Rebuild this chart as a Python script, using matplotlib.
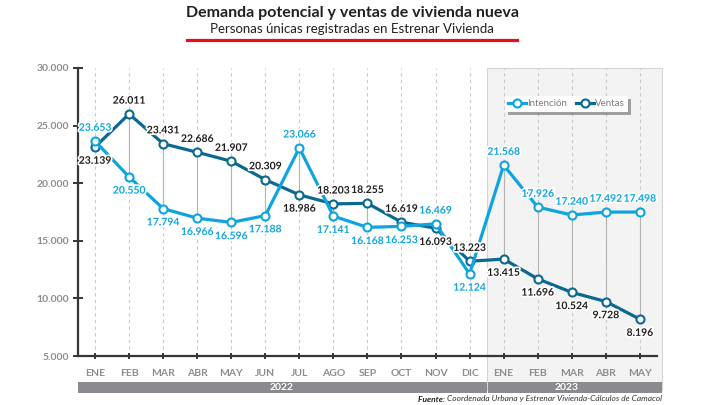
import matplotlib
matplotlib.use("Agg")
import matplotlib.pyplot as plt
import matplotlib.patches as mpatches
import matplotlib.patheffects as pe
from matplotlib.lines import Line2D

plt.rcParams['font.family'] = ['Lato', 'DejaVu Sans']

months = ["ENE", "FEB", "MAR", "ABR", "MAY", "JUN", "JUL", "AGO", "SEP", "OCT", "NOV", "DIC",
          "ENE", "FEB", "MAR", "ABR", "MAY"]
years = ["2022", "2023"]
intencion = [23653, 20550, 17794, 16966, 16596, 17188, 23066, 17141, 16168, 16253, 16469, 12124,
             21568, 17926, 17240, 17492, 17498]
ventas = [23139, 26011, 23431, 22686, 21907, 20309, 18986, 18203, 18255, 16619, 16093, 13223,
          13415, 11696, 10524, 9728, 8196]
yticks = [5000, 10000, 15000, 20000, 25000, 30000]

C_INT = "#0ea5de"
C_VEN = "#0b6990"
GRAY_TXT = "#8c8c8c"

W, H = 720, 405
fig = plt.figure(figsize=(7.2, 4.05), dpi=100)

def fx(px):
    return px / W

def fy(py):
    return 1 - py / H

ax_l, ax_r, ax_t, ax_b = 78, 662, 68, 356
ax = fig.add_axes([fx(ax_l), fy(ax_b), fx(ax_r) - fx(ax_l), fy(ax_t) - fy(ax_b)])
ax.patch.set_visible(False)
ax.set_zorder(2)

n = len(months)
xs = list(range(n))
ax.set_xlim(-0.5, 16.65)
ax.set_ylim(5000, 30000)

# shaded 2023 region
shade = mpatches.Rectangle((fx(487), fy(390)), fx(662) - fx(487), fy(68) - fy(390),
                           transform=fig.transFigure, facecolor="#f3f3f3",
                           edgecolor="#d6d6d6", lw=0.8, zorder=0)
fig.patches.append(shade)

# dashed gridlines
for x in xs:
    ax.plot([x, x], [5000, 30000], color="#c9c9c9", lw=0.8, ls=(0, (3, 3)), zorder=1)

# connectors
for x, a, b in zip(xs, intencion, ventas):
    ax.plot([x, x], [min(a, b), max(a, b)], color="#b3b3b3", lw=0.8, zorder=2)

ax.plot(xs, ventas, color=C_VEN, lw=2.3, marker="o", ms=5.8, mfc="white", mec=C_VEN,
        mew=1.5, zorder=4)
ax.plot(xs, intencion, color=C_INT, lw=2.3, marker="o", ms=5.8, mfc="white", mec=C_INT,
        mew=1.5, zorder=5)

# spines
for s in ["top", "right", "bottom"]:
    ax.spines[s].set_visible(False)
ax.spines["left"].set_color("#3b3434")
ax.spines["left"].set_linewidth(1.6)
ax.plot([-0.5, 16.5], [5000, 5000], color="#3b3434", lw=1.6, clip_on=False, zorder=3)

ax.set_yticks(yticks)
ax.set_yticklabels([f"{v:,}".replace(",", ".") for v in yticks], color=GRAY_TXT,
                   fontsize=7.5, fontweight="bold")
ax.tick_params(axis="y", direction="inout", length=7, width=1.4, color="#3b3434", pad=3)
ax.set_xticks(xs)
ax.set_xticklabels(months, color=GRAY_TXT, fontsize=7.5, fontweight="bold")
ax.tick_params(axis="x", direction="inout", length=5, width=1.4, color="#3b3434", pad=7)

def fmt(v):
    return f"{v:,}".replace(",", ".")

stroke = [pe.withStroke(linewidth=2.5, foreground="white")]
int_above = {0, 6, 10, 12, 13, 14, 15, 16}
ven_below = {0, 6, 10, 12, 13, 14, 15, 16}
for i, v in enumerate(intencion):
    off = 6 if i in int_above else -7
    va = "bottom" if i in int_above else "top"
    ax.annotate(fmt(v), (i, v), xytext=(0, off), textcoords="offset points", ha="center",
                va=va, color=C_INT, fontsize=7.5, fontweight="bold", path_effects=stroke,
                zorder=6)
for i, v in enumerate(ventas):
    off = -7 if i in ven_below else 6
    va = "top" if i in ven_below else "bottom"
    ax.annotate(fmt(v), (i, v), xytext=(0, off), textcoords="offset points", ha="center",
                va=va, color="#231f20", fontsize=7.5, fontweight="bold", path_effects=stroke,
                zorder=6)

# legend
handles = [Line2D([], [], color=C_INT, lw=2.3, marker="o", ms=5.8, mfc="white", mec=C_INT, mew=1.5),
           Line2D([], [], color=C_VEN, lw=2.3, marker="o", ms=5.8, mfc="white", mec=C_VEN, mew=1.5)]
leg = ax.legend(handles, ["Intención", "Ventas"], loc="upper left",
                bbox_to_anchor=(fx(505), fy(96)), bbox_transform=fig.transFigure,
                ncol=2, fontsize=7, frameon=True, shadow=True, fancybox=False,
                handlelength=1.8, handletextpad=0.1, columnspacing=1.0,
                borderpad=0.35, borderaxespad=0)
leg.get_frame().set_edgecolor("white")
leg.get_frame().set_linewidth(0)
for t in leg.get_texts():
    t.set_color("#7a7a7a")

# year bars
bar_col = "#8b8a8e"
fig.patches.append(mpatches.Rectangle((fx(78), fy(393)), fx(486.5) - fx(78), fy(382) - fy(393),
                                      transform=fig.transFigure, facecolor=bar_col, lw=0, zorder=1))
fig.patches.append(mpatches.Rectangle((fx(488), fy(393)), fx(662) - fx(488), fy(382) - fy(393),
                                      transform=fig.transFigure, facecolor=bar_col, lw=0, zorder=1))
fig.text(fx(282), fy(387.5), years[0], color="white", fontsize=7.5, fontweight="bold",
         ha="center", va="center")
fig.text(fx(567), fy(387.5), years[1], color="white", fontsize=7.5, fontweight="bold",
         ha="center", va="center")

# title
fig.text(fx(352), fy(13), "Demanda potencial y ventas de vivienda nueva", fontsize=11.5,
         fontweight="bold", color="#231f20", ha="center", va="center")
fig.text(fx(352), fy(29), "Personas únicas registradas en Estrenar Vivienda", fontsize=9.5,
         color="#231f20", ha="center", va="center")
fig.add_artist(Line2D([fx(187), fx(517)], [fy(40), fy(40)], color="#e3101b", lw=2.3,
                      transform=fig.transFigure))

# source
fig.text(fx(662), fy(399), "Coordenada Urbana y Estrenar Vivienda-Cálculos de Camacol",
         fontsize=6, style="italic", color="#333333", ha="right", va="center")
t = fig.text(fx(662), fy(399), " ", fontsize=6)
fig.canvas.draw()
r = fig.canvas.get_renderer()
src = fig.texts[-2]
bb = src.get_window_extent(renderer=r)
fig.text(bb.x0 / (W) , fy(399), "Fuente: ", fontsize=6, style="italic", fontweight="bold",
         color="#231f20", ha="right", va="center")

fig.savefig("out.png", dpi=100)
